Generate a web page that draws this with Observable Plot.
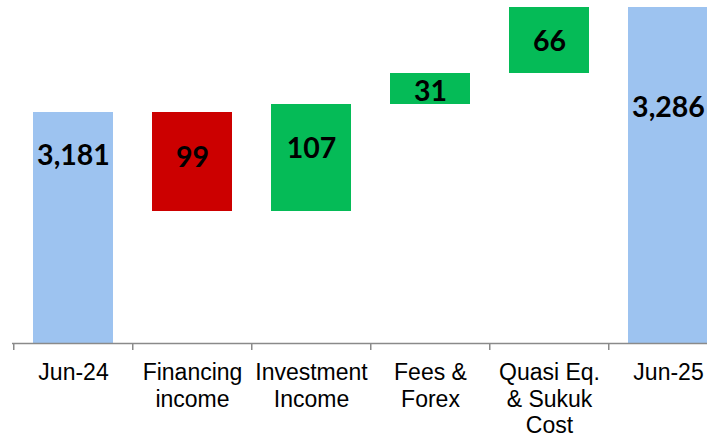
<!DOCTYPE html>
<html>
<head>
<meta charset="utf-8">
<script src="https://cdn.jsdelivr.net/npm/d3@7"></script>
<script src="https://cdn.jsdelivr.net/npm/@observablehq/plot@0.6"></script>
<style>
  html, body { margin: 0; padding: 0; background: #fff; overflow: hidden; }
  #chart svg { overflow: hidden !important; display: block; }
</style>
</head>
<body>
<div id="chart"></div>
<script>
// ---- data ----
const categories = ["Jun-24", "Financing income", "Investment Income", "Fees & Forex", "Quasi Eq. & Sukuk Cost", "Jun-25"];
const tickLabels = ["Jun-24", "Financing\nincome", "Investment\nIncome", "Fees &\nForex", "Quasi Eq.\n& Sukuk\nCost", "Jun-25"];
const values = [3181, -99, 107, 31, 66, 3286];
const kinds = ["total", "decrease", "increase", "increase", "increase", "total"];
const valueLabels = ["3,181", "99", "107", "31", "66", "3,286"];
const axisMin = 2950;

// ---- layout / style ----
const colors = {total: "#9DC3F0", decrease: "#CC0000", increase: "#05BB57"};
const labelDy = [-72, -4, -9, 3, 1, -68];

// build waterfall rows
let running = 0;
const rows = categories.map((c, i) => {
  let start, end;
  if (kinds[i] === "total") { start = axisMin; end = values[i]; running = values[i]; }
  else { start = running; end = running + values[i]; running = end; }
  return {cat: c, start, end, mid: (start + end) / 2, kind: kinds[i], label: valueLabels[i], tick: tickLabels[i]};
});

const W = 707, H = 439;
const plot = Plot.plot({
  width: W,
  height: H,
  marginLeft: 12,
  marginRight: 0,
  marginTop: 0,
  marginBottom: 96,
  style: {fontFamily: "'Liberation Sans', Arial, sans-serif", background: "#fff"},
  x: {domain: categories, range: [12, 729], paddingInner: 0.33, paddingOuter: 0.165, axis: null, label: null},
  y: {domain: [axisMin, 3293], axis: null},
  marks: [
    Plot.barY(rows, {x: "cat", y1: "start", y2: "end", fill: d => colors[d.kind]}),
    Plot.ruleY([axisMin], {stroke: "#8A8A8A", strokeWidth: 1.5}),
    Plot.axisX({tickSize: 7, tickFormat: () => "", label: null, stroke: "#8A8A8A", strokeWidth: 1.5, dx: -59.75}),
    Plot.text(rows, {x: "cat", y: axisMin, text: "tick", lineAnchor: "top", dy: 18, fontSize: 23, lineHeight: 1.15, fill: "#000"}),
    ...rows.map((r, i) => Plot.text([r], {
      x: "cat", y: "mid", text: "label", dy: labelDy[i],
      fontFamily: "Lato, 'Open Sans', sans-serif", fontWeight: "bold", fontSize: 28.5, fill: "#000"
    }))
  ]
});
document.getElementById("chart").appendChild(plot);
</script>
</body>
</html>
